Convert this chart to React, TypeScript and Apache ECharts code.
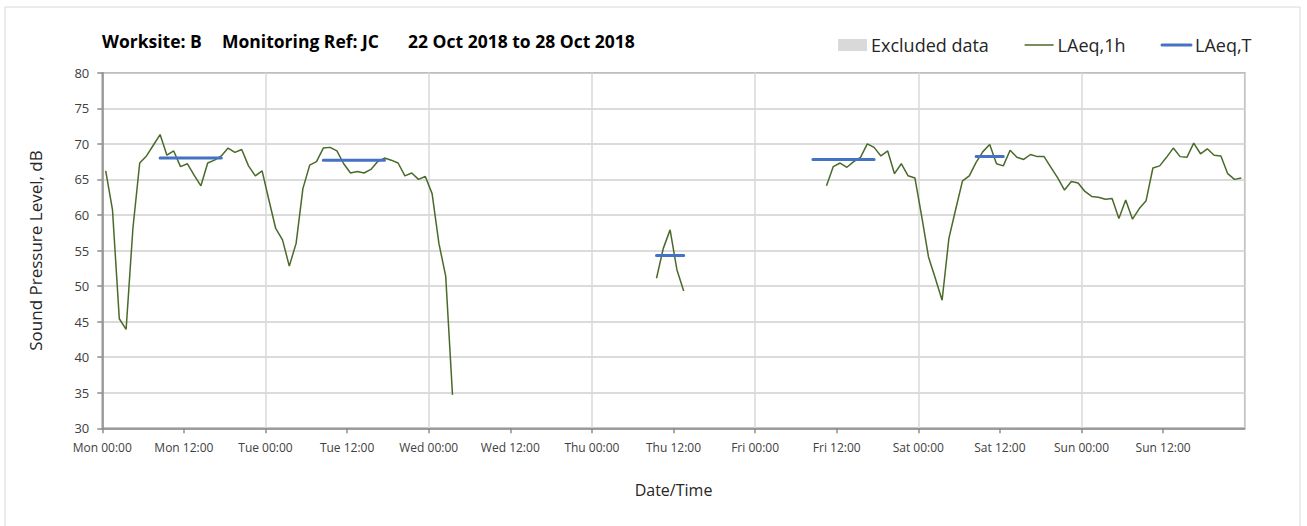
import React, { useEffect, useRef } from "react";
import * as echarts from "echarts";

// ---- Data ----
const DAYS = ["Mon", "Tue", "Wed", "Thu", "Fri", "Sat", "Sun"];

// LAeq,1h hourly values (hour mid-points, hours from Mon 00:00)
const seg1StartHour = 0.5; // Mon 00:30 .. Wed 03:30
const seg1Values = [
  66.2, 60.7, 45.4, 43.9, 58.1, 67.3, 68.3, 69.8, 71.3, 68.4, 69.0, 66.8,
  67.2, 65.6, 64.1, 67.3, 67.7, 68.3, 69.4, 68.8, 69.2, 66.9, 65.5, 66.2,
  62.1, 58.1, 56.5, 52.8, 56.0, 63.7, 67.0, 67.5, 69.4, 69.5, 69.0, 67.2,
  65.9, 66.1, 65.9, 66.4, 67.5, 68.0, 67.7, 67.3, 65.5, 65.9, 65.0, 65.4,
  63.0, 56.0, 51.4, 34.7,
];
const seg2StartHour = 81.5; // Thu 09:30 .. Thu 13:30
const seg2Values = [51.1, 55.3, 57.9, 52.3, 49.3];
const seg3StartHour = 106.5; // Fri 10:30 .. Sun 23:30
const seg3Values = [
  64.1, 66.8, 67.3, 66.7, 67.5, 68.1, 70.0, 69.5, 68.3, 69.0, 65.8, 67.2,
  65.5, 65.2, 59.8, 54.1, 51.1, 48.0, 56.7, 60.8, 64.8, 65.5, 67.4, 68.9,
  69.9, 67.2, 66.9, 69.1, 68.1, 67.8, 68.5, 68.2, 68.2, 66.7, 65.2, 63.5,
  64.7, 64.5, 63.3, 62.6, 62.5, 62.2, 62.3, 59.5, 62.1, 59.4, 60.9, 62.0,
  66.6, 66.9, 68.1, 69.4, 68.2, 68.1, 70.1, 68.6, 69.3, 68.4, 68.3, 65.8,
  65.0, 65.2,
];

// LAeq,T period averages
const periodStart = [8.5, 32.5, 81.5, 104.5, 128.5];
const periodEnd = [17.5, 41.5, 85.5, 113.5, 132.5];
const periodLevel = [68.0, 67.7, 54.3, 67.8, 68.2];

const TITLE_PARTS = ["Worksite: B", "Monitoring Ref: JC", "22 Oct 2018 to 28 Oct 2018"];

// ---- Build series data ----
function buildHourly(): any[] {
  const out: any[] = [];
  const segs: [number, number[]][] = [
    [seg1StartHour, seg1Values],
    [seg2StartHour, seg2Values],
    [seg3StartHour, seg3Values],
  ];
  segs.forEach(([start, vals], si) => {
    vals.forEach((v, i) => out.push([start + i, v]));
    if (si < segs.length - 1) out.push([start + vals.length, "-"]);
  });
  return out;
}

function buildPeriods(): any[] {
  const out: any[] = [];
  periodStart.forEach((s, i) => {
    out.push([s, periodLevel[i]]);
    out.push([periodEnd[i], periodLevel[i]]);
    if (i < periodStart.length - 1) out.push([periodEnd[i] + 0.5, "-"]);
  });
  return out;
}

const FONT = "'Open Sans', sans-serif";
const GREEN = "#4A6A2A";
const BLUE = "#4472C4";

export default function App() {
  const ref = useRef<HTMLDivElement>(null);

  useEffect(() => {
    if (!ref.current) return;
    const chart = echarts.init(ref.current, undefined, { renderer: "svg" });
    const axisColor = "#8c8c8c";
    const titleFont = `bold 17.5px ${FONT}`;
    chart.setOption({
      animation: false,
      backgroundColor: "#ffffff",
      textStyle: { fontFamily: FONT },
      grid: {
        left: 102.3,
        right: 62.3,
        top: 72.7,
        bottom: 97.7,
        show: true,
        borderColor: axisColor,
        borderWidth: 1.5,
        backgroundColor: "transparent",
      },
      legend: {
        left: 833,
        top: 31,
        itemGap: 35,
        itemWidth: 29,
        itemHeight: 12,
        textStyle: { fontFamily: FONT, fontSize: 18, color: "#262626", padding: [0, 0, 0, -1] },
        data: [
          { name: "Excluded data", icon: "rect" },
          { name: "LAeq,1h", itemStyle: { opacity: 0 }, lineStyle: { color: GREEN, width: 1.5 } },
          { name: "LAeq,T", itemStyle: { opacity: 0 }, lineStyle: { color: BLUE, width: 3 } },
        ],
      },
      graphic: [
        {
          type: "rect",
          silent: true,
          shape: { x: 5, y: 7, width: 1295, height: 540 },
          style: { fill: "none", stroke: "#d9d9d9", lineWidth: 1 },
        },
        {
          type: "text",
          left: 102,
          top: 32,
          style: { text: TITLE_PARTS[0], font: titleFont, fill: "#000" },
        },
        {
          type: "text",
          left: 222,
          top: 32,
          style: { text: TITLE_PARTS[1], font: titleFont, fill: "#000" },
        },
        {
          type: "text",
          left: 408,
          top: 32,
          style: { text: TITLE_PARTS[2], font: titleFont, fill: "#000" },
        },
      ],
      xAxis: [
        {
          type: "value",
          min: 0,
          max: 168,
          interval: 12,
          name: "Date/Time",
          nameLocation: "middle",
          nameGap: 54,
          nameTextStyle: { fontFamily: FONT, fontSize: 16, color: "#262626" },
          axisLine: { show: true, onZero: false, lineStyle: { color: axisColor, width: 1.5 } },
          axisTick: { show: true, length: 5, lineStyle: { color: axisColor, width: 1.5 } },
          axisLabel: {
            fontFamily: FONT,
            fontSize: 12,
            color: "#404040",
            margin: 13,
            showMaxLabel: false,
            formatter: (v: number) => {
              if (v >= 168) return "";
              const d = Math.floor(v / 24);
              const h = v % 24;
              return `${DAYS[d]} ${h === 0 ? "00:00" : "12:00"}`;
            },
          },
          splitLine: { show: false },
        },
        {
          type: "value",
          min: 0,
          max: 168,
          interval: 24,
          position: "bottom",
          axisLine: { show: false },
          axisTick: { show: false },
          axisLabel: { show: false },
          splitLine: { show: true, lineStyle: { color: "#d9d9d9", width: 1.5 } },
        },
      ],
      yAxis: {
        type: "value",
        min: 30,
        max: 80,
        interval: 5,
        name: "Sound Pressure Level, dB",
        nameLocation: "middle",
        nameGap: 58,
        nameTextStyle: { fontFamily: FONT, fontSize: 17, color: "#262626" },
        axisLine: { show: true, lineStyle: { color: axisColor, width: 1.5 } },
        axisTick: { show: true, length: 5, lineStyle: { color: axisColor, width: 1.5 } },
        axisLabel: { fontFamily: FONT, fontSize: 13, color: "#404040", margin: 13 },
        splitLine: { show: true, lineStyle: { color: "#cfcfcf", width: 1.5 } },
      },
      series: [
        {
          name: "Excluded data",
          type: "bar",
          data: [],
          itemStyle: { color: "#d9d9d9" },
        },
        {
          name: "LAeq,1h",
          type: "line",
          data: buildHourly(),
          showSymbol: false,
          symbol: "none",
          connectNulls: false,
          color: GREEN,
          lineStyle: { color: GREEN, width: 1.5 },
          z: 3,
        },
        {
          name: "LAeq,T",
          type: "line",
          data: buildPeriods(),
          showSymbol: false,
          symbol: "none",
          connectNulls: false,
          color: BLUE,
          lineStyle: { color: BLUE, width: 3, cap: "round" },
          z: 4,
        },
      ],
    });
    return () => chart.dispose();
  }, []);

  return (
    <div
      ref={ref}
      style={{ position: "fixed", left: 0, top: 0, width: 1307, height: 526, background: "#fff" }}
    />
  );
}
